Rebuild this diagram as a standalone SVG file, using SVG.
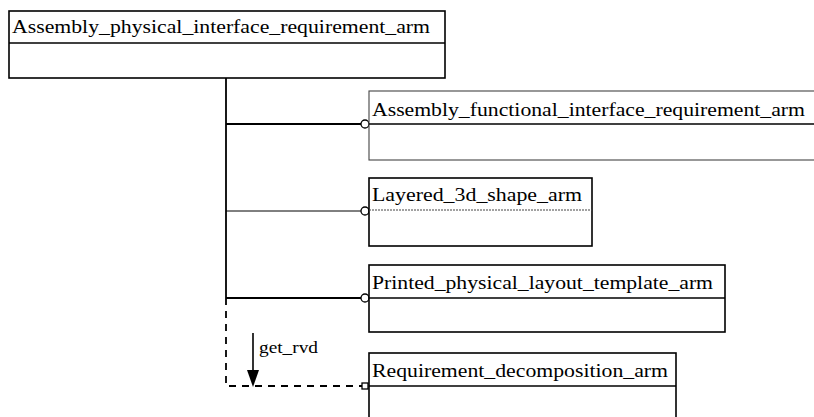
<svg xmlns="http://www.w3.org/2000/svg" width="814" height="417" viewBox="0 0 814 417">
<style>
.box{fill:#fff;stroke:#000;stroke-width:1.6}
.thin{fill:#fff;stroke:#444;stroke-width:1.1}
.div{stroke:#000;stroke-width:1.6}
.lbl{font-family:"Liberation Serif","Times New Roman",serif;font-size:18px;fill:#000}
.ln{stroke:#000;stroke-width:1.8;fill:none}
.dash{stroke:#000;stroke-width:1.8;fill:none;stroke-dasharray:7,6}
.end{fill:#fff;stroke:#000;stroke-width:1.3}
</style>
<g id="connectors">
<line class="ln" x1="226" y1="78" x2="226" y2="298"/>
<line class="ln" x1="226" y1="124" x2="361" y2="124"/>
<line class="ln" x1="226" y1="211" x2="361" y2="211" style="stroke-width:1"/>
<line class="ln" x1="226" y1="298" x2="361" y2="298"/>
<path class="dash" d="M226,298 L226,386 L362,386"/>
<circle class="end" cx="365" cy="124" r="4"/>
<circle class="end" cx="365" cy="211" r="4"/>
<circle class="end" cx="365" cy="298" r="4"/>
<rect class="end" x="362" y="383" width="6" height="6"/>
<line x1="253" y1="333" x2="253" y2="370" stroke="#000" stroke-width="1.6"/>
<path d="M247,370 L259,370 L253,387 Z" fill="#000"/>
<text class="lbl" x="259" y="353" textLength="59" lengthAdjust="spacingAndGlyphs" style="font-size:16px">get_rvd</text>
</g>
<g id="node1">
<rect class="box" x="9" y="11" width="436" height="67"/>
<line class="div" x1="9" y1="43" x2="445" y2="43"/>
<text class="lbl" x="12" y="33" textLength="418" lengthAdjust="spacingAndGlyphs" style="font-size:19px">Assembly_physical_interface_requirement_arm</text>
</g>
<g id="node2">
<rect class="thin" x="369" y="91" width="450" height="69"/>
<line class="div" x1="369" y1="124" x2="814" y2="124"/>
<text class="lbl" x="372" y="116" textLength="433" lengthAdjust="spacingAndGlyphs">Assembly_functional_interface_requirement_arm</text>
</g>
<g id="node3">
<rect class="box" x="369" y="178" width="223" height="68"/>
<line x1="369" y1="210" x2="592" y2="210" stroke="#444" stroke-width="1" stroke-dasharray="2,1"/>
<text class="lbl" x="372" y="201" textLength="210" lengthAdjust="spacingAndGlyphs">Layered_3d_shape_arm</text>
</g>
<g id="node4">
<rect class="box" x="369" y="265" width="356" height="67"/>
<line class="div" x1="369" y1="298" x2="725" y2="298"/>
<text class="lbl" x="372" y="289" textLength="341" lengthAdjust="spacingAndGlyphs">Printed_physical_layout_template_arm</text>
</g>
<g id="node5">
<rect class="box" x="369" y="353" width="307" height="80"/>
<line class="div" x1="369" y1="386" x2="676" y2="386"/>
<text class="lbl" x="372" y="377" textLength="296" lengthAdjust="spacingAndGlyphs">Requirement_decomposition_arm</text>
</g>
</svg>
